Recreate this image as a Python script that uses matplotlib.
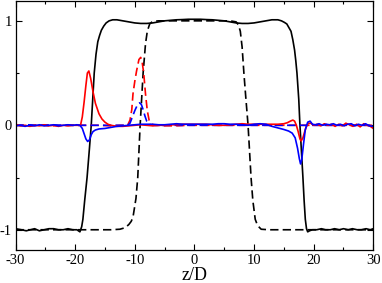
import matplotlib
matplotlib.use('Agg')
import matplotlib.pyplot as plt
from matplotlib.ticker import MultipleLocator

plt.rcParams['font.family'] = 'serif'
plt.rcParams['font.serif'] = ['Liberation Serif', 'DejaVu Serif']
plt.rcParams['axes.unicode_minus'] = False

# solid black (order parameter, final state)
black_z = [-30, -29, -28.2, -27.5, -26.8, -26, -25.2, -24.4, -23.6, -22.8, -22, -21.2, -20.4,
           -19.7, -19.2, -18.9, -18.7, -18.4, -18.0, -17.6, -17.3, -17.0, -16.8, -16.5, -16.2,
           -15.9, -15.6, -15.2, -14.8, -14.3, -13.7, -13, -12, -11, -10, -9, -8, -7, -6, -5,
           -4, -3, -2, -1, 0, 1, 2, 3, 4, 5, 6, 7, 8, 9, 10, 11, 12, 13, 14, 14.6, 15.1, 15.5,
           15.9, 16.2, 16.5, 16.8, 17.0, 17.2, 17.5, 17.7, 18.0, 18.2, 18.4, 18.6, 18.8, 19.0,
           19.3, 19.8, 20.5, 21.3, 22, 22.8, 23.5, 24.3, 25, 25.8, 26.5, 27.3, 28, 28.8, 29.5, 30]
black_y = [-0.99, -1.0, -1.01, -1.0, -0.99, -1.01, -1.0, -0.99, -0.99, -1.0, -1.0, -0.99, -1.0,
           -1.0, -1.02, -0.97, -0.9, -0.72, -0.5, -0.22, 0.0, 0.3, 0.5, 0.68, 0.8,
           0.86, 0.91, 0.95, 0.98, 1.0, 1.01, 1.01, 1.0, 0.99, 0.98, 0.975, 0.975, 0.98, 0.99, 1.0,
           1.005, 1.01, 1.012, 1.015, 1.015, 1.015, 1.012, 1.01, 1.005, 1.0, 0.99, 0.98, 0.975, 0.975,
           0.98, 0.99, 1.0, 1.01, 1.01, 1.0, 0.985, 0.97,
           0.93, 0.9, 0.82, 0.72, 0.62, 0.5, 0.25, 0.0, -0.3, -0.5, -0.72, -0.9, -0.99, -1.02,
           -1.01, -1.0, -1.0, -0.99, -1.0, -1.0, -0.99, -1.0, -0.99, -1.0, -0.99, -1.0, -1.0, -0.99, -1.0, -0.99]

# dashed black (initial state)
black0_z = [-30, -14, -12.5, -11.6, -11.0, -10.6, -10.3, -9.8, -9.5, -9.1, -8.6, -8.2, -7.9,
            -7.5, -7.0, -6, 0, 6, 7.0, 7.4, 7.7, 8.0, 8.3, 8.6, 9.0, 9.3, 9.5, 9.8, 10.2,
            10.6, 11.2, 12.5, 30]
black0_y = [-1.0, -1.0, -0.995, -0.98, -0.95, -0.92, -0.88, -0.7, -0.5, 0.0, 0.5, 0.78, 0.9,
            0.97, 0.995, 1.0, 1.0, 1.0, 0.99, 0.96, 0.9, 0.75, 0.5, 0.28, 0.0, -0.3, -0.5, -0.72, -0.9,
            -0.96, -0.995, -1.0, -1.0]

# solid red
red_z = [-30, -29.2, -28.4, -27.6, -26.8, -26, -25.2, -24.4, -23.6, -22.8, -22, -21.2, -20.4,
         -19.7, -19.1, -18.8, -18.5, -18.2, -17.95, -17.7, -17.4, -17.0, -16.6, -16.0, -15.5,
         -15.0, -14.5, -14.0, -13, -12, -11, -10, -9, -8, -7, -6, -5, -4, -3, -2, -1, 0, 1, 2,
         3, 4, 5, 6, 7, 8, 9, 10, 11, 12, 13, 14, 15, 15.6, 16.1, 16.5, 16.8, 17.1, 17.4, 17.7,
         17.9, 18.2, 18.5, 18.8, 19.1, 19.5, 20.0, 20.6, 21.2, 21.8, 22.4, 23.0, 23.6, 24.2,
         24.8, 25.4, 26.0, 26.6, 27.2, 27.8, 28.4, 29.0, 29.5, 30]
red_y = [0.01, -0.005, 0.0, -0.01, 0.0, -0.005, 0.005, -0.005, 0.0, -0.01, 0.0, -0.005, 0.0,
         0.0, 0.0, 0.08, 0.22, 0.38, 0.5, 0.52, 0.45, 0.32, 0.21, 0.11, 0.06,
         0.03, 0.01, 0.0, -0.01, -0.01, -0.005, 0.0, 0.005, 0.0, -0.005, 0.0, 0.0, 0.005, 0.005,
         0.01, 0.01, 0.01, 0.01, 0.01, 0.005, 0.0, 0.0, 0.005, 0.01, 0.015, 0.01, 0.01, 0.01,
         0.01, 0.01, 0.01, 0.015, 0.025, 0.04, 0.05, 0.04, 0.0, -0.06, -0.13,
         -0.15, -0.12, -0.06, -0.01, 0.02, 0.02, 0.0, 0.01, -0.005, 0.015, 0.0, 0.01, -0.01, 0.01,
         -0.005, 0.02, 0.005, -0.01, 0.01, -0.015, 0.015, 0.0, -0.01, -0.03]

# dashed red
red0_z = [-30, -28, -26, -24, -22, -20, -18, -16, -14, -12.5, -11.2, -10.8, -10.5, -10.3,
          -10.0, -9.7, -9.3, -9.0, -8.75, -8.5, -8.2, -7.9, -7.6, -7.2, -6.5, -5, -3, -1, 1,
          3, 5, 7, 9, 11, 13, 15, 17, 19, 21, 23, 25, 27, 29, 30]
red0_y = [0.0, -0.005, 0.0, -0.005, 0.0, 0.0, 0.0, 0.0, -0.005, 0.0, 0.0, 0.05, 0.15, 0.3,
          0.42, 0.52, 0.63, 0.65, 0.6, 0.5, 0.3, 0.14, 0.05, 0.01, 0.0, -0.005, -0.005, 0.0, 0.0,
          0.0, 0.0, 0.0, 0.0, 0.0, 0.0, 0.0, 0.0, 0.0, 0.0, 0.0, 0.0, 0.0, 0.0, 0.0]

# solid blue
blue_z = [-30, -29.2, -28.4, -27.6, -26.8, -26, -25.2, -24.4, -23.6, -22.8, -22, -21.2, -20.4,
          -19.7, -19.2, -18.8, -18.5, -18.2, -17.9, -17.6, -17.3, -17.0, -16.6, -16.0, -15.0,
          -14.0, -13.0, -12.0, -11, -10, -9, -8, -7, -6, -5, -4, -3, -2, -1, 0, 1, 2, 3, 4, 5,
          6, 7, 8, 9, 10, 11, 12, 13, 14, 15, 15.8, 16.4, 16.9, 17.3, 17.6, 17.8, 18.0, 18.3,
          18.6, 19.0, 19.4, 19.8, 20.3, 20.9, 21.5, 22.1, 22.7, 23.3, 23.9, 24.5, 25.1, 25.7,
          26.3, 26.9, 27.5, 28.1, 28.7, 29.3, 30]
blue_y = [-0.005, 0.0, -0.01, 0.0, -0.005, 0.005, -0.005, 0.0, 0.005, -0.005, 0.0, 0.005, 0.0,
          0.005, 0.0, -0.03, -0.08, -0.13, -0.155, -0.14, -0.09, -0.06, -0.045, -0.035, -0.03,
          -0.02, -0.01, -0.005, 0.0, 0.005, 0.01, 0.01, 0.01, 0.005, 0.005, 0.01, 0.015, 0.01,
          0.01, 0.01, 0.01, 0.01, 0.01, 0.015, 0.015, 0.01, 0.01, 0.005, 0.0, 0.01, 0.015, 0.01,
          -0.01, -0.025, -0.04, -0.055, -0.075, -0.12, -0.22, -0.32, -0.37, -0.33, -0.18,
          -0.04, 0.03, 0.04, 0.01, 0.005, 0.015, 0.0, 0.01, 0.005, 0.015, 0.0, 0.01, -0.005, 0.01,
          0.015, -0.005, 0.01, 0.0, 0.015, -0.005, -0.01]

# dashed blue
blue0_z = [-30, -28, -26, -24, -22, -20, -18, -16, -14, -12.5, -11.2, -10.8, -10.4, -10.0,
           -9.6, -9.2, -8.9, -8.6, -8.3, -8.0, -7.6, -7.0, -5, -3, -1, 1, 3, 5, 7, 9, 11, 13,
           15, 17, 19, 21, 23, 25, 27, 29, 30]
blue0_y = [0.0, 0.005, 0.0, 0.005, 0.0, 0.0, 0.0, 0.0, 0.0, 0.0, 0.0, 0.02, 0.08, 0.14,
           0.19, 0.215, 0.2, 0.15, 0.09, 0.04, 0.01, 0.0, 0.0, 0.0, 0.0, 0.0, 0.0, 0.0, 0.0, 0.0,
           0.0, 0.0, 0.0, 0.0, 0.0, 0.0, 0.0, 0.0, 0.0, 0.0, 0.0]

fig = plt.figure(figsize=(3.82, 2.83), dpi=100)
ax = fig.add_axes([0.0406, 0.118, 0.9366, 0.8785])

lw = 1.2
dash = (5, 2.5)
ax.plot(black_z, black_y, color='black', lw=lw)
ax.plot(black0_z, black0_y, color='black', lw=lw, dashes=dash)
ax.plot(red0_z, red0_y, color='red', lw=lw, dashes=dash)
ax.plot(blue0_z, blue0_y, color='blue', lw=lw, dashes=dash)
ax.plot(red_z, red_y, color='red', lw=lw)
ax.plot(blue_z, blue_y, color='blue', lw=lw)

ax.set_xlim(-30, 30)
ax.set_ylim(-1.19, 1.19)
ax.xaxis.set_major_locator(MultipleLocator(10))
ax.xaxis.set_minor_locator(MultipleLocator(5))
ax.yaxis.set_major_locator(MultipleLocator(1))
ax.yaxis.set_minor_locator(MultipleLocator(0.5))
ax.tick_params(which='both', direction='in', top=True, right=True, labelsize=10.5)
ax.tick_params(which='major', length=4, width=0.8)
ax.tick_params(which='minor', length=2.5, width=0.8)
ax.tick_params(axis='x', pad=3.5)
ax.tick_params(axis='y', pad=2.5)
for s in ax.spines.values():
    s.set_linewidth(0.9)

ax.set_xlabel('z/D', fontsize=13, labelpad=0)

fig.savefig('out.png', dpi=100)
